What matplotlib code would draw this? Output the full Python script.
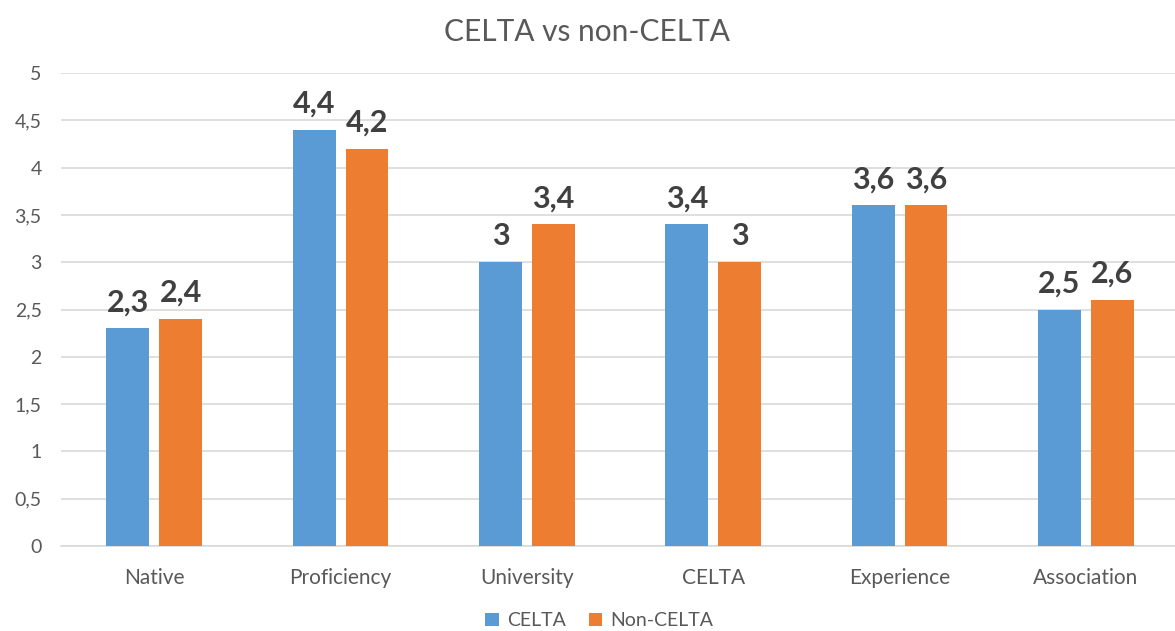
import matplotlib
matplotlib.use("Agg")
import matplotlib.pyplot as plt
import numpy as np

plt.rcParams['font.family'] = ['Lato', 'DejaVu Sans']

categories = ["Native", "Proficiency", "University", "CELTA", "Experience", "Association"]
celta = [2.3, 4.4, 3.0, 3.4, 3.6, 2.5]
non_celta = [2.4, 4.2, 3.4, 3.0, 3.6, 2.6]
yticks = [0, 0.5, 1, 1.5, 2, 2.5, 3, 3.5, 4, 4.5, 5]

blue = "#5B9BD5"
orange = "#ED7D31"
grey = "#595959"


def comma(v):
    s = ("%g" % v)
    return s.replace(".", ",")


fig = plt.figure(figsize=(11.75, 6.31), dpi=100)
ax = fig.add_axes([0.052, 0.1347, 0.9515, 0.7496])

x = np.arange(len(categories))
w = 0.23
off = 0.142
b1 = ax.bar(x - off, celta, w, color=blue, label="CELTA", zorder=3)
b2 = ax.bar(x + off, non_celta, w, color=orange, label="Non-CELTA", zorder=3)

for bars, vals in ((b1, celta), (b2, non_celta)):
    for b, v in zip(bars, vals):
        ax.text(b.get_x() + b.get_width() / 2, v + 0.18, comma(v),
                ha="center", va="baseline", fontsize=22, fontweight="bold",
                color="#404040")

ax.set_xlim(-0.5, len(categories) - 0.5)
ax.set_ylim(0, 5)
ax.set_yticks(yticks)
ax.set_yticklabels([comma(t) for t in yticks])
ax.set_xticks(x)
ax.set_xticklabels(categories)
ax.tick_params(axis="y", length=0, pad=14, labelsize=14, labelcolor=grey)
ax.tick_params(axis="x", length=0, pad=16, labelsize=15, labelcolor=grey)

ax.grid(axis="y", color="#D9D9D9", linewidth=1.2, zorder=0)
for side in ("left", "right", "top"):
    ax.spines[side].set_visible(False)
ax.spines["bottom"].set_color("#D9D9D9")
ax.spines["bottom"].set_linewidth(1.2)

fig.text(0.5, 0.95, "CELTA vs non-CELTA", ha="center", va="center",
         fontsize=21.5, color=grey)

fig.legend(handles=[b1, b2], loc="center", bbox_to_anchor=(0.51, 0.016),
           ncol=2, frameon=False, fontsize=14, labelcolor=grey,
           handlelength=0.7, handleheight=0.7, handletextpad=0.4,
           columnspacing=1.2)

fig.savefig("out.png", dpi=100)
